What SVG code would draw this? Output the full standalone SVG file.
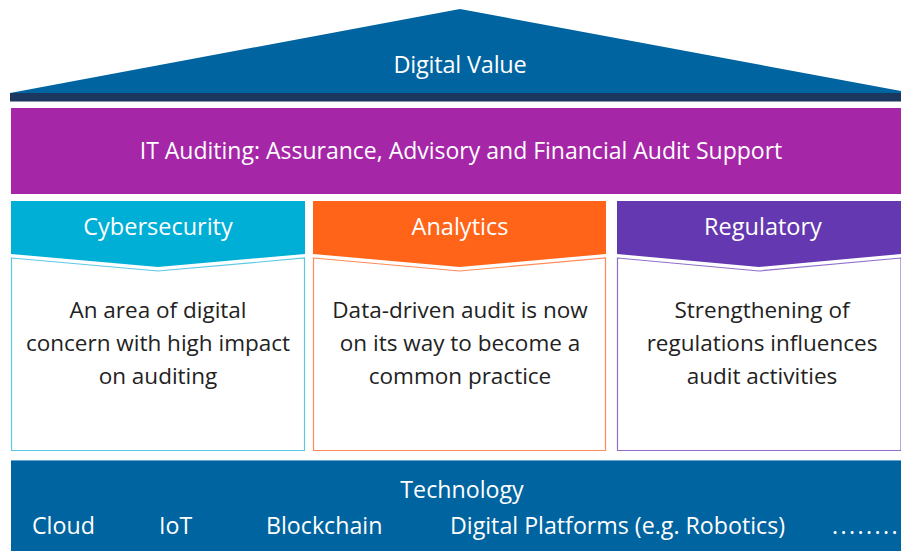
<svg xmlns="http://www.w3.org/2000/svg" width="901" height="551" viewBox="0 0 901 551">
<style>
text{font-family:"Open Sans",Lato,"Liberation Sans",sans-serif;fill:#ffffff;text-anchor:middle}
.h{font-size:23.5px}
.it{font-size:23px}
.b{font-size:22.5px;fill:#222222}
.t{font-size:23.2px}
</style>
<rect width="901" height="551" fill="#ffffff"/>
<g id="roof">
<polygon points="10,93 460,9 901,91 901,93" fill="#0064a0"/>
<rect x="10" y="93" width="891" height="8.5" fill="#1b365f"/>
<text class="h" x="460" y="73" letter-spacing="-0.2">Digital Value</text>
</g>
<g id="it-auditing">
<rect x="11" y="108" width="890" height="86" fill="#a626a8"/>
<text class="it" x="461" y="159">IT Auditing: Assurance, Advisory and Financial Audit Support</text>
</g>
<g id="cybersecurity">
<polygon points="11,201 305,201 305,254 158,267 11,254" fill="#00afd6"/>
<text class="h" x="158" y="235">Cybersecurity</text>
<polygon points="11.5,258 158,271 304.5,258 304.5,450.5 11.5,450.5" fill="#ffffff" stroke="#5cc8e6" stroke-width="1.2"/>
<text class="b" x="158" y="318">An area of digital</text>
<text class="b" x="158" y="351">concern with high impact</text>
<text class="b" x="158" y="384">on auditing</text>
</g>
<g id="analytics">
<polygon points="313,201 606,201 606,254 459.5,267 313,254" fill="#ff6418"/>
<text class="h" x="460" y="235">Analytics</text>
<polygon points="313.5,258 459.5,271 605.5,258 605.5,450.5 313.5,450.5" fill="#ffffff" stroke="#ff8a5a" stroke-width="1.2"/>
<text class="b" x="460" y="318">Data-driven audit is now</text>
<text class="b" x="460" y="351">on its way to become a</text>
<text class="b" x="460" y="384">common practice</text>
</g>
<g id="regulatory">
<polygon points="617,201 901,201 901,254 759,267 617,254" fill="#6438b0"/>
<text class="h" x="763" y="235">Regulatory</text>
<polygon points="617.5,258 759,271 901,258 901,450.5 617.5,450.5" fill="#ffffff" stroke="#8f6fcb" stroke-width="1.2"/>
<text class="b" x="762" y="318">Strengthening of</text>
<text class="b" x="762" y="351">regulations influences</text>
<text class="b" x="762" y="384">audit activities</text>
</g>
<g id="technology">
<rect x="11" y="460" width="890" height="91" fill="#0064a0"/>
<rect x="11" y="460" width="890" height="1" fill="#6aa7d0"/>
<text class="t" x="462" y="498">Technology</text>
<text class="t" x="32" y="534" style="text-anchor:start">Cloud</text>
<text class="t" x="159" y="534" style="text-anchor:start">IoT</text>
<text class="t" x="266" y="534" style="text-anchor:start">Blockchain</text>
<text class="t" x="450" y="534" style="text-anchor:start">Digital Platforms (e.g. Robotics)</text>
<text class="t" x="832" y="534" style="text-anchor:start" letter-spacing="2.4">........</text>
</g>
<g id="connectors"/>
</svg>
